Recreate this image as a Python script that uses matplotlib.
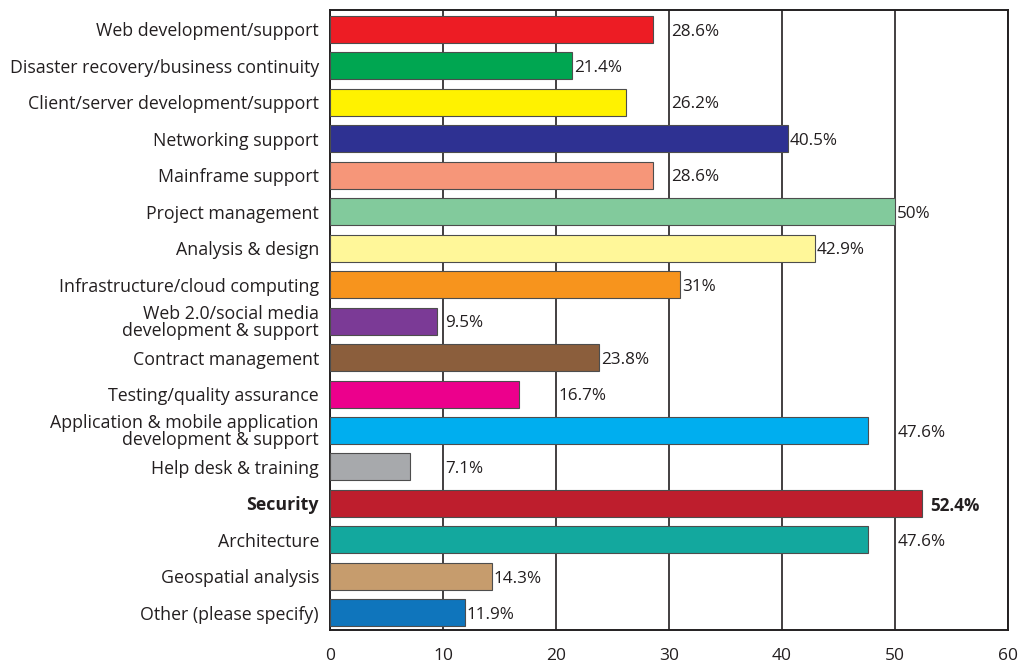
import numpy as np
import matplotlib.pyplot as plt

categories = [
    "Web development/support",
    "Disaster recovery/business continuity",
    "Client/server development/support",
    "Networking support",
    "Mainframe support",
    "Project management",
    "Analysis & design",
    "Infrastructure/cloud computing",
    "Web 2.0/social media\ndevelopment & support",
    "Contract management",
    "Testing/quality assurance",
    "Application & mobile application\ndevelopment & support",
    "Help desk & training",
    "Security",
    "Architecture",
    "Geospatial analysis",
    "Other (please specify)",
]
values = [28.6, 21.4, 26.2, 40.5, 28.6, 50, 42.9, 31, 9.5, 23.8, 16.7, 47.6, 7.1, 52.4, 47.6, 14.3, 11.9]
value_labels = ["28.6%", "21.4%", "26.2%", "40.5%", "28.6%", "50%", "42.9%", "31%", "9.5%",
                "23.8%", "16.7%", "47.6%", "7.1%", "52.4%", "47.6%", "14.3%", "11.9%"]
colors = ["#ED1C24", "#00A651", "#FFF200", "#2E3192", "#F69679", "#82CA9C", "#FFF799",
          "#F7941D", "#7B3A96", "#8B5E3C", "#EC008C", "#00AEEF", "#A7A9AC", "#BE1E2D",
          "#13A89E", "#C69C6D", "#0F75BC"]
highlight = "Security"
xticks = [0, 10, 20, 30, 40, 50, 60]

plt.rcParams['font.family'] = ['Open Sans', 'DejaVu Sans']
ink = "#231F20"

fig = plt.figure(figsize=(10.18, 6.67), dpi=100)
ax = fig.add_axes([0.3242, 0.0555, 0.666, 0.9295])

y = np.arange(len(categories))
ax.barh(y, values, height=0.74, color=colors, edgecolor="#4D4D4D", linewidth=0.8, zorder=3)

ax.set_xlim(0, 60)
ax.set_ylim(16.47, -0.53)
ax.set_xticks(xticks)
ax.set_xticklabels([str(t) for t in xticks], fontsize=12.5, color=ink)
ax.set_yticks(y)
ax.set_yticklabels(categories, fontsize=12.8, color=ink, linespacing=0.9)
ax.tick_params(axis="x", length=0, pad=13)
ax.tick_params(axis="y", length=0, pad=8)
for lab in ax.get_yticklabels():
    if lab.get_text() == highlight:
        lab.set_fontweight("bold")

ax.set_axisbelow(True)
ax.grid(axis="x", color=ink, linewidth=1.2, zorder=1)
for s in ax.spines.values():
    s.set_color(ink)
    s.set_linewidth(1.4)

# value labels: just past the bar end, pushed past a gridline when they would cross it
for i, (v, txt) in enumerate(zip(values, value_labels)):
    start = v + 0.2
    width = 0.95 * len(txt)
    for g in xticks:
        if start < g < start + width:
            start = g + 0.2
            break
    bold = categories[i] == highlight
    ax.text(start + (0.5 if bold else 0), i + 0.06, txt, va="center", ha="left", fontsize=12.3,
            color=ink, fontweight="bold" if bold else "normal", zorder=4)

fig.savefig("out.png", dpi=100)
